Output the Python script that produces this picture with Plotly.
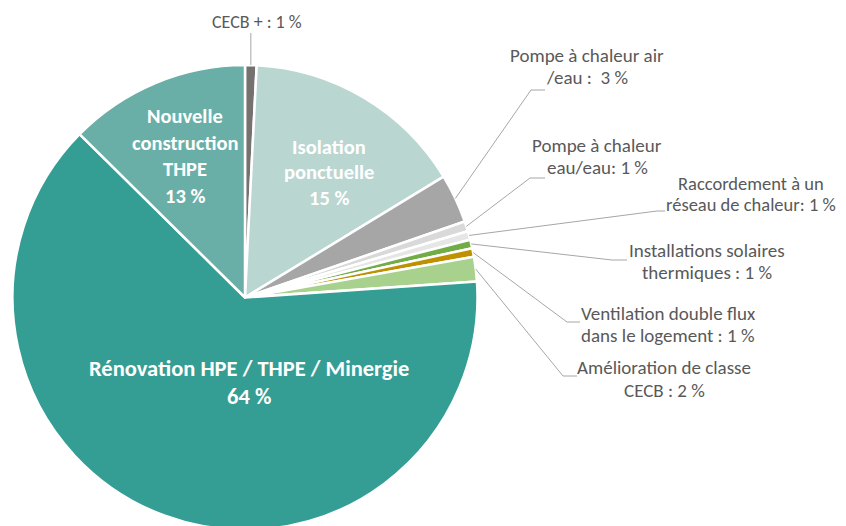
import math
import plotly.graph_objects as go

# ---------------- data ----------------
categories = [
    "CECB +",
    "Isolation ponctuelle",
    "Pompe à chaleur air/eau",
    "Pompe à chaleur eau/eau",
    "Raccordement à un réseau de chaleur",
    "Installations solaires thermiques",
    "Ventilation double flux dans le logement",
    "Amélioration de classe CECB",
    "Rénovation HPE / THPE / Minergie",
    "Nouvelle construction THPE",
]
shares = [0.8, 15.5, 3.4, 0.7, 0.6, 0.6, 0.6, 1.7, 63.5, 12.6]
pct_labels = ["1 %", "15 %", "3 %", "1 %", "1 %", "1 %", "1 %", "2 %", "64 %", "13 %"]
colors = ["#767171", "#b9d6d1", "#a6a6a6", "#d9d9d9", "#e6e6e6",
          "#70ad47", "#bf9000", "#a9d18e", "#349d94", "#6aafa7"]

# label text lines (outside labels)
outside_lines = {
    0: ["CECB + : " + pct_labels[0]],
    2: ["Pompe à chaleur air", "/eau :  " + pct_labels[2]],
    3: ["Pompe à chaleur", "eau/eau: " + pct_labels[3]],
    4: ["Raccordement à un", "réseau de chaleur: " + pct_labels[4]],
    5: ["Installations solaires", "thermiques : " + pct_labels[5]],
    6: ["Ventilation double flux", "dans le logement : " + pct_labels[6]],
    7: ["Amélioration de classe", "CECB : " + pct_labels[7]],
}
inside_lines = {
    1: ["Isolation", "ponctuelle", pct_labels[1]],
    8: ["Rénovation HPE / THPE / Minergie", pct_labels[8]],
    9: ["Nouvelle", "construction", "THPE", pct_labels[9]],
}

# ---------------- layout geometry (screen pixels) ----------------
W, H = 846, 526
OFF = 8  # page body margin
CX, CY, R = 245.0, 297.5, 232.5

def px(x):
    return (x - OFF) / W

def py(y):
    return 1 - (y - OFF) / H

# label anchors: (center x, first line y, line spacing)
outside_anchor = {
    0: (257, 22, 22),
    2: (587, 55, 22),
    3: (597, 145, 22),
    4: (751, 183, 22),
    5: (707, 250, 22),
    6: (668, 313, 22),
    7: (664, 367, 23),
}
outside_size = {0: 18, 2: 19, 3: 19, 4: 18.5, 5: 19, 6: 19, 7: 19}
# leader elbows and ends (screen pixels)
leader_elbow = {
    0: (None, 33), 2: (531, 90), 3: (530, 178), 4: (657, 211),
    5: (612, 260), 6: (567, 322), 7: (563, 376),
}
leader_end = {
    0: None, 2: 545, 3: 545, 4: 665, 5: 627, 6: 580, 7: 577,
}
inside_anchor = {
    1: (329, 147, 25.5),
    8: (249, 368, 28),
    9: (185, 116, 26.5),
}
inside_size = {1: 20.5, 8: 22.5, 9: 20.5}

fig = go.Figure(go.Pie(
    labels=categories,
    values=shares,
    sort=False,
    direction="clockwise",
    rotation=0,
    marker=dict(colors=colors, line=dict(color="white", width=2.5)),
    textinfo="none",
    hoverinfo="label+percent",
    domain=dict(x=[px(CX - R), px(CX + R)], y=[py(CY + R), py(CY - R)]),
    showlegend=False,
))

# mid angles computed from data
total = sum(shares)
mid_angle = []
acc = 0.0
for v in shares:
    mid_angle.append((acc + v / 2) / total * 2 * math.pi)
    acc += v

shapes = []
annotations = []
for i, lines in outside_lines.items():
    a = mid_angle[i]
    sx = CX + R * math.sin(a)
    sy = CY - R * math.cos(a)
    ex, ey = leader_elbow[i]
    if ex is None:
        ex = sx
    path = f"M {px(sx)},{py(sy)} L {px(ex)},{py(ey)}"
    if leader_end[i] is not None:
        path += f" L {px(leader_end[i])},{py(ey)}"
    shapes.append(dict(type="path", xref="paper", yref="paper", path=path,
                       line=dict(color="#a6a6a6", width=1)))
    cx, y0, dy = outside_anchor[i]
    for k, t in enumerate(lines):
        annotations.append(dict(
            x=px(cx), y=py(y0 + k * dy), xref="paper", yref="paper",
            text=t, showarrow=False, xanchor="center", yanchor="middle",
            font=dict(family="Carlito, Open Sans, sans-serif", size=outside_size[i],
                      color="#595959"),
        ))

for i, lines in inside_lines.items():
    cx, y0, dy = inside_anchor[i]
    for k, t in enumerate(lines):
        annotations.append(dict(
            x=px(cx), y=py(y0 + k * dy), xref="paper", yref="paper",
            text="<b>" + t + "</b>", showarrow=False, xanchor="center", yanchor="middle",
            font=dict(family="Carlito, Open Sans, sans-serif", size=inside_size[i], color="white"),
        ))

fig.update_layout(
    width=W, height=H,
    margin=dict(l=0, r=0, t=0, b=0),
    paper_bgcolor="white",
    plot_bgcolor="white",
    shapes=shapes,
    annotations=annotations,
)

fig.write_html("out.html")
